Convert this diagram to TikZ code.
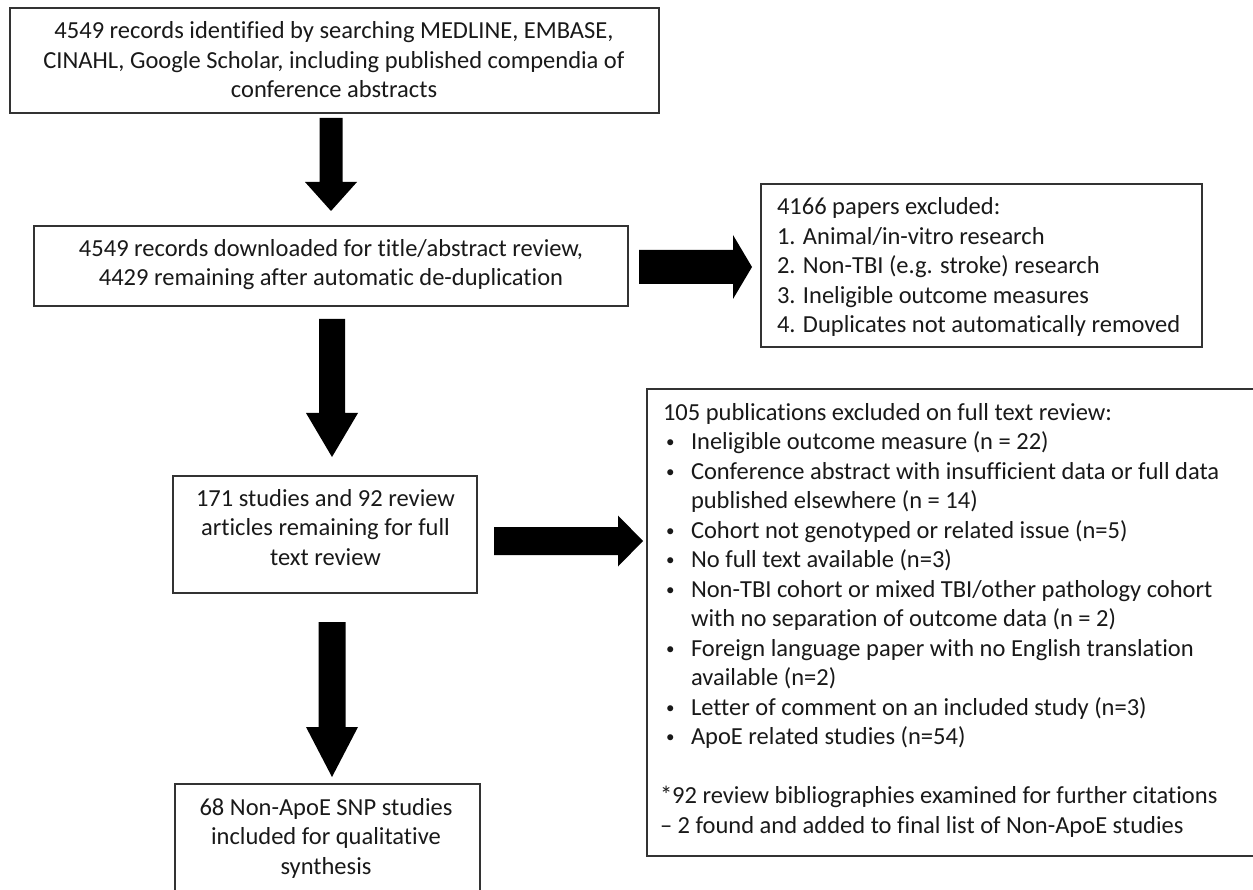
\documentclass[tikz,border=0pt]{standalone}
\usepackage{fontspec}
\setmainfont{Carlito}[RawFeature={-liga;-clig;-rlig;-calt;-dlig}]
\usetikzlibrary{calc}
\newcommand\vblk[8]{\fill[blk] let \p1=(#1.south), \p2=(#2.north) in
  ({(#3-#6)*1pt},{\y1-#4pt}) -- ({(#3+#6)*1pt},{\y1-#4pt}) -- ({(#3+#6)*1pt},{\y2+#5pt+#8pt}) -- ({(#3+#7)*1pt},{\y2+#5pt+#8pt}) -- ({#3pt},{\y2+#5pt}) -- ({(#3-#7)*1pt},{\y2+#5pt+#8pt}) -- ({(#3-#6)*1pt},{\y2+#5pt+#8pt}) -- cycle;}
\newcommand\hblk[8]{\fill[blk] let \p1=(#1.east), \p2=(#2.west) in
  ({\x1+#4pt},{-(#3-#6)*1pt}) -- ({\x2-#5pt-#8pt},{-(#3-#6)*1pt}) -- ({\x2-#5pt-#8pt},{-(#3-#7)*1pt}) -- ({\x2-#5pt},{-#3pt}) -- ({\x2-#5pt-#8pt},{-(#3+#7)*1pt}) -- ({\x2-#5pt-#8pt},{-(#3+#6)*1pt}) -- ({\x1+#4pt},{-(#3+#6)*1pt}) -- cycle;}
\newcommand\bul{\hspace*{3pt}\makebox[25pt][l]{\raisebox{2pt}{\fontsize{17}{17}\selectfont •}}}
\newcommand\ind{\hspace*{28pt}}
\begin{document}
\begin{tikzpicture}[x=1pt,y=-1pt,
  frame/.style={draw=black!80, line width=1.6pt, fill=white, inner sep=0pt, outer sep=0pt, anchor=north west},
  txt/.style={font=\fontsize{24.5}{29.5}\selectfont, text=black!90, inner sep=0pt, outer sep=0pt},
  blk/.style={fill=black}]
\useasboundingbox (0,0) rectangle (1253,890);
\clip (0,0) rectangle (1253,890);
\fill[white] (0,0) rectangle (1253,890);

% boxes
\node[frame, minimum width=649pt, minimum height=105pt] (b1) at (10,8) {};
\node[frame, minimum width=594pt, minimum height=80pt] (b2) at (34,226) {};
\node[frame, minimum width=304pt, minimum height=117pt] (b3) at (173,476) {};
\node[frame, minimum width=305pt, minimum height=125pt] (b4) at (175,784) {};
\node[frame, minimum width=441pt, minimum height=163pt] (r1) at (761,184) {};
\node[frame, minimum width=630pt, minimum height=467pt] (r2) at (647,389) {};

% texts
\node[txt, align=center, anchor=north] (t1) at (334,21) {\rule{0pt}{18pt}4549 records identified by searching MEDLINE, EMBASE,\\CINAHL, Google Scholar, including published compendia of\\conference abstracts};
\node[txt, align=center, anchor=north] (t2) at (331,238.5) {\rule{0pt}{18pt}4549 records downloaded for title/abstract review,\\4429 remaining after automatic de-duplication};
\node[txt, align=center, anchor=north] (t3) at (325.5,488) {\rule{0pt}{18pt}171 studies and 92 review\\articles remaining for full\\text review};
\node[txt, align=center, anchor=north] (t4) at (326,797) {\rule{0pt}{18pt}68 Non-ApoE SNP studies\\included for qualitative\\synthesis};
\node[txt, align=left, anchor=north west] (t5) at (777,197) {\rule{0pt}{18pt}4166 papers excluded:\\1. Animal/in-vitro research\\2. Non-TBI (e.g. stroke) research\\3. Ineligible outcome measures\\4. Duplicates not automatically removed};
\node[txt, align=left, anchor=north west] (t6) at (663,402) {\rule{0pt}{18pt}105 publications excluded on full text review:\\
\bul Ineligible outcome measure (n = 22)\\
\bul Conference abstract with insufficient data or full data\\
\ind published elsewhere (n = 14)\\
\bul Cohort not genotyped or related issue (n=5)\\
\bul No full text available (n=3)\\
\bul Non-TBI cohort or mixed TBI/other pathology cohort\\
\ind with no separation of outcome data (n = 2)\\
\bul Foreign language paper with no English translation\\
\ind available (n=2)\\
\bul Letter of comment on an included study (n=3)\\
\bul ApoE related studies (n=54)\\[29.5pt]
\hspace*{-3pt}*92 review bibliographies examined for further citations\\
\hspace*{-3pt}– 2 found and added to final list of Non-ApoE studies};

% block arrows
\vblk{b1}{b2}{331}{5}{15}{11.5}{26}{29}
\vblk{b2}{b3}{332}{13}{19}{13}{26}{44}
\vblk{b3}{b4}{332}{29}{7}{13.5}{26}{50}
\hblk{b2}{r1}{267}{11}{9}{17}{32}{19}
\hblk{b3}{r2}{541}{17}{4}{14}{25.5}{25}
\end{tikzpicture}
\end{document}
